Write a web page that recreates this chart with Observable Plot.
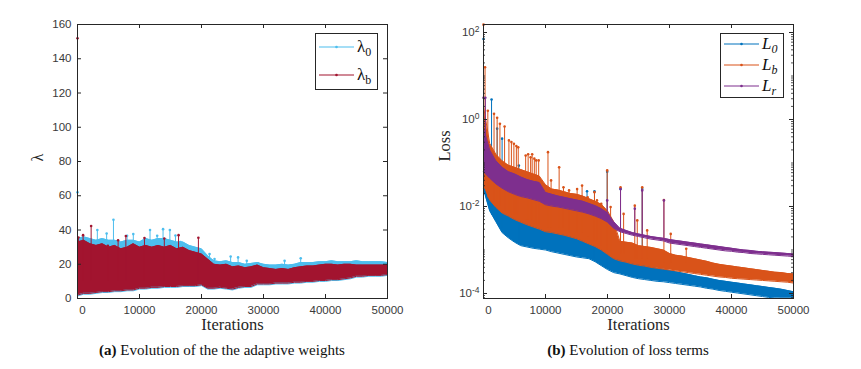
<!DOCTYPE html>
<html><head><meta charset="utf-8">
<script src="https://cdn.jsdelivr.net/npm/d3@7"></script>
<script src="https://cdn.jsdelivr.net/npm/@observablehq/plot@0.6"></script>
<style>
body{margin:0;background:#fff;}
#fig{position:relative;width:861px;height:369px;overflow:hidden;background:#fff;}
.p{position:absolute;top:0;}
.cap{position:absolute;top:342px;font-family:"Liberation Serif","Times New Roman",serif;font-size:15px;color:#111;white-space:nowrap;transform:translateX(-50%);}
.leg{position:absolute;}
</style></head><body><div id="fig"></div>
<script>
// ---------- shared x grid (iterations) ----------
const iters = [0,1000,2000,3000,4000,5000,6000,7000,8000,9000,10000,11000,12000,13000,14000,15000,16000,17000,18000,19000,20000,21000,22000,23000,24000,25000,26000,27000,28000,29000,30000,31000,32000,33000,34000,35000,36000,37000,38000,39000,40000,41000,42000,43000,44000,45000,46000,47000,48000,49000,50000];
const xTickValues = [0,10000,20000,30000,40000,50000];

// ---------- panel (a): adaptive weights ----------
const lam0Upper = [35,36,35,34,35,34,34,33,34,34,33,35,34,35,35,34,33,33,31,30,29,25,22,21.5,22,21,21,20,20.5,21,20,19.5,19.5,20,19.5,20,21,21,21,21.5,21.5,22,21.5,21.5,21.5,22,21.5,21.5,21.5,21.5,21];
const lam0Lower = [1.5,2.5,2.5,3,3.5,3.5,4,4,4.5,4.5,5.5,5.5,6,6,6.5,6.5,6.5,7,7,7,7.5,5.5,5.5,6,5.5,5,6,6.5,6.5,8,8,8,8.5,8.5,8.5,9,9,9.5,9.5,10,10,10.5,10.5,11,11.5,12.5,12.5,13,13,13,13.5];
const lamBUpper = [33,34,32,31,32,30,31,29,30,32,30,31,30,31,30,31,29,30,28,27,26,23,20,19.5,20,18.5,19,18,18.5,19.5,18,17.5,17,17.5,17,18,18.5,19,19,19.5,20,20,19.5,20,20,19.5,19.5,19.5,19.5,19.5,19.5];
const lamBLower = [2,3,3,3.5,4,4,4.5,4.5,5,5,6,6,6.5,6.5,7,7,7,7.5,7.5,7.5,8,6,6,6.5,6,5.5,6.5,7,7,8.5,8.5,8.5,9,9,9,9.5,9.5,10,10,10.5,10.5,11,11,11.5,12,13,13,13.5,13.5,13.5,14];
const lam0SpikeIter = [0,3200,4700,5800,8000,9000,11700,12850,13800,14900,15800,16600,21300,22100,24700,25900,27300,29100,33400,36000];
const lam0SpikePeak = [62,40,38,46,36.6,37.6,40,36.6,40.5,40,36.8,33,26,23,24.5,24,22,20.5,22,23.5];
const lamBSpikeIter = [0,150,900,2200,4900,6550,7800,10800,14000,16300,19500];
const lamBSpikePeak = [152,35.6,37,42.3,30.8,34,36.5,35.3,35,37,35.5];
const yTicksA = [0,20,40,60,80,100,120,140,160];

// ---------- panel (b): loss terms (log10 of the loss) ----------
const l0HiLog10 = [-1.2,-1.8,-2.0,-2.1,-2.2,-2.25,-2.32,-2.38,-2.42,-2.47,-2.52,-2.55,-2.58,-2.62,-2.65,-2.7,-2.75,-2.8,-2.86,-2.94,-3.05,-3.15,-3.22,-3.26,-3.3,-3.33,-3.36,-3.39,-3.42,-3.44,-3.47,-3.5,-3.53,-3.56,-3.59,-3.62,-3.64,-3.67,-3.7,-3.72,-3.74,-3.76,-3.78,-3.8,-3.82,-3.84,-3.86,-3.88,-3.9,-3.93,-3.96];
const l0LoLog10 = [-1.6,-2.1,-2.35,-2.6,-2.72,-2.82,-2.9,-2.93,-2.96,-2.98,-3.0,-3.04,-3.07,-3.1,-3.13,-3.16,-3.18,-3.2,-3.27,-3.36,-3.45,-3.52,-3.55,-3.59,-3.63,-3.66,-3.68,-3.7,-3.72,-3.73,-3.75,-3.77,-3.79,-3.81,-3.83,-3.85,-3.88,-3.9,-3.93,-3.95,-3.97,-3.99,-4.01,-4.03,-4.05,-4.07,-4.09,-4.1,-4.11,-4.11,-4.11];
const lbHiLog10 = [0.3,-0.55,-0.8,-0.95,-1.05,-1.1,-1.15,-1.2,-1.25,-1.3,-1.5,-1.6,-1.62,-1.66,-1.7,-1.72,-1.76,-1.82,-1.88,-1.95,-2.1,-2.35,-2.8,-2.82,-2.84,-2.9,-2.92,-2.94,-2.97,-3.0,-3.08,-3.12,-3.14,-3.17,-3.2,-3.23,-3.26,-3.3,-3.33,-3.35,-3.37,-3.39,-3.41,-3.43,-3.45,-3.47,-3.49,-3.51,-3.52,-3.54,-3.55];
const lbLoLog10 = [-1.5,-1.85,-2.02,-2.15,-2.22,-2.3,-2.36,-2.42,-2.47,-2.52,-2.58,-2.6,-2.63,-2.66,-2.7,-2.74,-2.8,-2.86,-2.92,-3.0,-3.1,-3.2,-3.25,-3.28,-3.32,-3.35,-3.37,-3.4,-3.42,-3.44,-3.46,-3.48,-3.5,-3.52,-3.54,-3.56,-3.58,-3.6,-3.62,-3.63,-3.65,-3.66,-3.67,-3.68,-3.69,-3.7,-3.71,-3.72,-3.73,-3.74,-3.76];
const lrHiLog10 = [-0.2,-0.7,-0.95,-1.1,-1.2,-1.25,-1.32,-1.38,-1.42,-1.45,-1.68,-1.72,-1.76,-1.79,-1.82,-1.85,-1.88,-1.93,-1.98,-2.05,-2.15,-2.35,-2.5,-2.55,-2.6,-2.63,-2.66,-2.69,-2.71,-2.73,-2.76,-2.78,-2.8,-2.82,-2.84,-2.86,-2.88,-2.9,-2.92,-2.94,-2.96,-2.98,-3.0,-3.01,-3.03,-3.04,-3.05,-3.06,-3.07,-3.08,-3.09];
const lrLoLog10 = [-1.2,-1.35,-1.48,-1.58,-1.66,-1.72,-1.77,-1.8,-1.84,-1.88,-1.96,-1.99,-2.01,-2.04,-2.07,-2.1,-2.13,-2.17,-2.22,-2.28,-2.36,-2.5,-2.58,-2.62,-2.66,-2.69,-2.72,-2.75,-2.77,-2.79,-2.84,-2.86,-2.88,-2.9,-2.92,-2.94,-2.96,-2.98,-3.0,-3.02,-3.03,-3.05,-3.06,-3.08,-3.09,-3.1,-3.11,-3.12,-3.13,-3.14,-3.15];
const l0SpikeIter = [0,1300,2200,3000,5700,16700,17900,19950,22100,25600];
const l0SpikePeakLog10 = [1.85,0.46,-0.21,-0.44,-1.06,-1.65,-1.65,-1.2,-1.6,-1.6];
const l0SpikeBaseLog10 = [-1.5,-2.2,-2.3,-2.5,-2.8,-3.1,-3.2,-3.4,-3.4,-3.5];
const lbSpikeIter = [0,250,700,1700,2200,2650,3400,4100,4500,4900,5300,5600,6800,7200,7600,7850,8200,8500,8900,10400,10900,12200,12900,13800,15100,15900,16800,17900,18300,19000,19950,20500,22100,22600,24400,24800,25600,26400,29100,30200,32700];
const lbSpikePeakLog10 = [2.18,1.2,0.2,0.13,0.04,-0.1,-0.16,-0.48,-0.52,-0.56,-0.61,-0.64,-0.83,-0.8,-0.87,-0.8,-0.9,-0.94,-0.94,-0.75,-1.4,-1.1,-1.56,-1.63,-1.6,-1.52,-1.79,-1.67,-1.86,-1.94,-1.17,-2.01,-1.56,-2.17,-1.98,-2.32,-1.56,-2.55,-1.85,-2.63,-2.97];
const lbSpikeBaseLog10 = [-1.5,-1.6,-1.8,-1.9,-2.0,-2.0,-2.1,-2.1,-2.2,-2.2,-2.2,-2.2,-2.3,-2.3,-2.3,-2.3,-2.4,-2.4,-2.4,-2.5,-2.5,-2.5,-2.5,-2.6,-2.6,-2.6,-2.7,-2.8,-2.8,-2.9,-3.0,-3.1,-3.1,-3.1,-3.2,-3.2,-3.2,-3.2,-3.3,-3.3,-3.3];
const lrSpikeIter = [0,300,19950,22100,24400,25600,29100];
const lrSpikePeakLog10 = [0.5,0.5,-1.86,-1.6,-2.05,-1.63,-1.86];
const lrSpikeBaseLog10 = [-4.1,-1.0,-2.3,-2.55,-2.62,-2.66,-2.75];
const yTicksB = [1e-4,1e-2,1,1e2];

// ---------- colours ----------
const C_L0 = "#4DBEEE", C_LB = "#A2142F";
const C_B0 = "#0072BD", C_BB = "#D95319", C_BR = "#7E2F8E";
const AX = "#262626";
const SERIF = '"Liberation Serif","Times New Roman",serif';
const SANS = '"Liberation Sans",Arial,Helvetica,sans-serif';

// ---------- tables ----------
const band = (lo, hi, f = v => v) => iters.map((iter, i) => ({iter, lo: f(lo[i]), hi: f(hi[i])}));
const spikes = (it, pk, base, f = v => v) => it.map((iter, i) => ({iter, peak: f(pk[i]), base: f(typeof base === "number" ? base : base[i])}));
const p10 = v => Math.pow(10, v);

const lam0Tbl = band(lam0Lower, lam0Upper);
const lamBTbl = band(lamBLower, lamBUpper);
const lam0Sp = spikes(lam0SpikeIter, lam0SpikePeak, 10);
const lamBSp = spikes(lamBSpikeIter, lamBSpikePeak, 10);

const l0Tbl = band(l0LoLog10, l0HiLog10, p10);
const lbTbl = band(lbLoLog10, lbHiLog10, p10);
const lrTbl = band(lrLoLog10, lrHiLog10, p10);
const l0Sp = spikes(l0SpikeIter, l0SpikePeakLog10, l0SpikeBaseLog10, p10);
const lbSp = spikes(lbSpikeIter, lbSpikePeakLog10, lbSpikeBaseLog10, p10);
const lrSp = spikes(lrSpikeIter, lrSpikePeakLog10, lrSpikeBaseLog10, p10);

function seriesMarks(tbl, sp, color) {
  return [
    Plot.areaY(tbl, {x: "iter", y1: "lo", y2: "hi", fill: color}),
    Plot.line(tbl, {x: "iter", y: "hi", stroke: color, strokeWidth: 1}),
    Plot.line(tbl, {x: "iter", y: "lo", stroke: color, strokeWidth: 1}),
    Plot.ruleX(sp, {x: "iter", y1: "base", y2: "peak", stroke: color, strokeWidth: 1}),
    Plot.dot(sp, {x: "iter", y: "peak", r: 1.3, fill: color})
  ];
}

function frameMarks(innerW, innerH, yTicks, minor) {
  const m = [
    Plot.frame({stroke: AX, strokeWidth: 1}),
    Plot.tickX(xTickValues, {x: d => d, insetTop: innerH - 4, stroke: AX}),
    Plot.tickX(xTickValues, {x: d => d, insetBottom: innerH - 4, stroke: AX}),
    Plot.tickY(yTicks, {y: d => d, insetRight: innerW - 4, stroke: AX}),
    Plot.tickY(yTicks, {y: d => d, insetLeft: innerW - 4, stroke: AX}),
    Plot.axisX(xTickValues.slice(1), {tickSize: 0, tickPadding: 7, tickFormat: d => String(d), fontFamily: SANS}),
    Plot.axisX([0], {tickSize: 0, tickPadding: 7, dx: 5, tickFormat: d => String(d), fontFamily: SANS}),
    Plot.text(["Iterations"], {frameAnchor: "bottom", dy: 31, fontFamily: SERIF, fontSize: 16.5, fill: AX})
  ];
  if (minor) {
    m.push(Plot.tickY(minor, {y: d => d, insetRight: innerW - 2, stroke: AX, strokeWidth: 0.8}));
    m.push(Plot.tickY(minor, {y: d => d, insetLeft: innerW - 2, stroke: AX, strokeWidth: 0.8}));
  }
  return m;
}

const fig = document.getElementById("fig");

// ---------- left plot ----------
const left = Plot.plot({
  width: 430, height: 340,
  marginLeft: 77, marginRight: 43, marginTop: 24, marginBottom: 42,
  style: {fontFamily: SANS, fontSize: "11.5px", color: "#3a3a3a", background: "white", overflow: "visible"},
  x: {domain: [0, 50000], label: null},
  y: {domain: [0, 160], label: null},
  marks: [
    ...seriesMarks(lam0Tbl, lam0Sp, C_L0),
    ...seriesMarks(lamBTbl, lamBSp, C_LB),
    ...frameMarks(310, 274, yTicksA, null),
    Plot.axisY(yTicksA, {tickSize: 0, tickPadding: 6, fontFamily: SANS}),
    Plot.text(["λ"], {frameAnchor: "left", dx: -40, rotate: -90, fontFamily: SERIF, fontSize: 16, fill: AX})
  ]
});
left.classList.add("p"); left.style.left = "0px";
fig.appendChild(left);

// ---------- right plot ----------
const minorB = [];
for (let e = -5; e <= 2; e++) for (let k = 2; k <= 9; k++) { const v = k * Math.pow(10, e); if (v > 7.7e-5 && v < 152) minorB.push(v); }
for (const v of [1e1, 1e-1, 1e-3]) minorB.push(v);

const right = Plot.plot({
  width: 431, height: 340,
  marginLeft: 53, marginRight: 68, marginTop: 24, marginBottom: 42,
  style: {fontFamily: SANS, fontSize: "11.5px", color: "#3a3a3a", background: "white", overflow: "visible"},
  x: {domain: [0, 50000], label: null},
  y: {type: "log", domain: [Math.pow(10, -4.115), Math.pow(10, 2.184)], label: null},
  marks: [
    ...seriesMarks(l0Tbl, l0Sp, C_B0),
    ...seriesMarks(lbTbl, lbSp, C_BB),
    ...seriesMarks(lrTbl, lrSp, C_BR),
    ...frameMarks(310, 274, yTicksB, minorB),
    Plot.axisY(yTicksB, {tickSize: 0, tickPadding: 4, fontFamily: SANS, tickFormat: d => "10^" + Math.round(Math.log10(d))}),
    Plot.text(["Loss"], {frameAnchor: "left", dx: -39, rotate: -90, fontFamily: SERIF, fontSize: 16.5, fill: AX})
  ]
});
right.classList.add("p"); right.style.left = "430px";
fig.appendChild(right);

// superscript exponents on log tick labels
right.querySelectorAll("text").forEach(t => {
  const s = t.textContent;
  const m = /^10\^(-?\d+)$/.exec(s);
  if (!m) return;
  t.textContent = "";
  const ns = "http://www.w3.org/2000/svg";
  const a = document.createElementNS(ns, "tspan"); a.textContent = "10";
  const b = document.createElementNS(ns, "tspan"); b.textContent = m[1];
  b.setAttribute("dy", "-0.5em"); b.setAttribute("font-size", "8.5px");
  t.appendChild(a); t.appendChild(b);
});

// ---------- legends ----------
function legend(x, y, w, h, items, rowY) {
  const ns = "http://www.w3.org/2000/svg";
  const svg = document.createElementNS(ns, "svg");
  svg.setAttribute("width", w + 1); svg.setAttribute("height", h + 1);
  svg.setAttribute("class", "leg");
  svg.style.left = x + "px"; svg.style.top = y + "px";
  let html = `<rect x="0.5" y="0.5" width="${w - 1}" height="${h - 1}" fill="white" stroke="${AX}" stroke-width="1"/>`;
  items.forEach((it, i) => {
    const yy = rowY[i];
    html += `<line x1="4" x2="39" y1="${yy}" y2="${yy}" stroke="${it.color}" stroke-width="1.2"/>`;
    html += `<circle cx="21.5" cy="${yy}" r="1.3" fill="${it.color}"/>`;
    html += `<text x="42" y="${yy + 5}" font-family='${SERIF}' font-size="17" fill="#111" font-style="${it.italic ? "italic" : "normal"}">${it.base}<tspan dy="4" font-size="12" font-style="${it.italic ? "italic" : "normal"}">${it.sub}</tspan></text>`;
  });
  svg.innerHTML = html;
  fig.appendChild(svg);
}
legend(315, 33, 63, 57, [
  {color: C_L0, base: "λ", sub: "0"},
  {color: C_LB, base: "λ", sub: "b"}
], [14, 42]);
legend(720, 33, 64, 65, [
  {color: C_B0, base: "L", sub: "0", italic: true},
  {color: C_BB, base: "L", sub: "b", italic: true},
  {color: C_BR, base: "L", sub: "r", italic: true}
], [11, 32, 53]);

// ---------- captions ----------
const capA = document.createElement("div"); capA.className = "cap"; capA.style.left = "222px";
capA.innerHTML = "<b>(a)</b> Evolution of the the adaptive weights"; fig.appendChild(capA);
const capB = document.createElement("div"); capB.className = "cap"; capB.style.left = "628px";
capB.innerHTML = "<b>(b)</b> Evolution of loss terms"; fig.appendChild(capB);
</script></body></html>
